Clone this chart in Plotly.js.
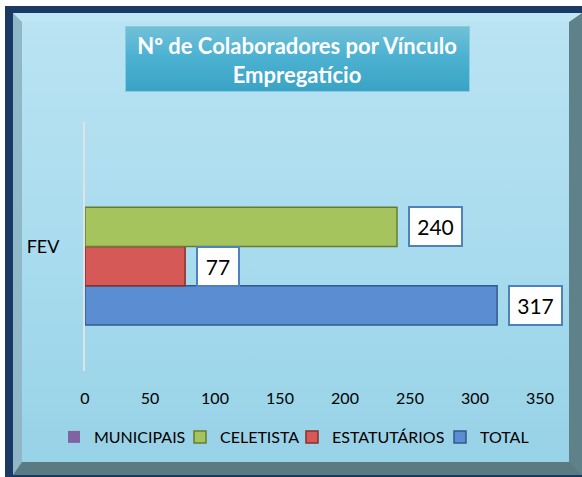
<!DOCTYPE html>
<html>
<head>
<meta charset="utf-8">
<script src="https://cdn.plot.ly/plotly-3.0.1.min.js"></script>
<style>
  html, body { margin: 0; padding: 0; background: #ffffff; }
  #wrap { position: relative; width: 582px; height: 477px; overflow: hidden; }
  #navy { position: absolute; left: 5px; top: 6px; width: 590px; height: 471px; background: #1b3a63; }
  #bevel { position: absolute; left: 13px; top: 13px; width: 547px; height: 440px;
           border-style: solid; border-width: 9px 13px 13px 9px;
           border-color: #bfe6f5 #5f8189 #5a7b82 #8fb7c5;
           background: linear-gradient(to bottom, #bae3f3 0%, #a9dcee 50%, #98d2e7 100%); }
  #titlebox { position: absolute; left: 125px; top: 26px; width: 343px; height: 64px;
              border: 1px solid #86cde2;
              background: linear-gradient(to bottom, #72c0d8 0%, #4db2d2 45%, #3aa3c5 100%); }
  #chart { position: absolute; left: 0; top: 0; width: 582px; height: 477px; }
</style>
</head>
<body>
<div id="wrap">
  <div id="navy"></div>
  <div id="bevel"></div>
  <div id="titlebox"></div>
  <div id="chart"></div>
</div>
<script>
// ---- data ----
const categories = ['FEV'];
const seriesNames = ['TOTAL', 'ESTATUTÁRIOS', 'CELETISTA', 'MUNICIPAIS'];
const total = [317];
const estatutarios = [77];
const celetista = [240];
const municipais = [0];
const xTicks = [0, 50, 100, 150, 200, 250, 300, 350];

const seriesValues = [total, estatutarios, celetista, municipais];
const fills = ['#5b8dd2', '#d55a57', '#a5c45e', '#8064a2'];
const edges = ['#35598a', '#8a2f2c', '#667d31', '#5a4575'];
// one legend box per series so each entry sits where the original has it
const legendIds = ['legend4', 'legend3', 'legend2', 'legend'];
const legendLeftPx = { legend: 54, legend2: 180, legend3: 292, legend4: 440 };

const traces = seriesNames.map((name, i) => ({
  type: 'bar',
  orientation: 'h',
  name: name,
  y: categories,
  x: seriesValues[i],
  legend: legendIds[i],
  marker: { color: fills[i],
            line: { color: edges[i], width: seriesValues[i].some(v => v > 0) ? 1.5 : 0 } },
  hoverinfo: 'none'
}));

const bargap = 0.37;
const barW = (1 - bargap) / seriesNames.length;
const annotations = [];
seriesValues.forEach((vals, i) => {
  vals.forEach((v, j) => {
    if (v <= 0) return;
    const txt = String(v);
    annotations.push({
      x: v, y: j - (1 - bargap) / 2 + barW * (i + 0.5),
      xref: 'x', yref: 'y',
      text: txt, showarrow: false,
      xanchor: 'left', yanchor: 'middle', xshift: 11,
      font: { family: 'Lato, "Open Sans", sans-serif', size: 21, color: '#000000' },
      bgcolor: '#ffffff', bordercolor: '#4f81bd', borderwidth: 2, borderpad: 2,
      width: 11 * txt.length + 14, height: 33
    });
  });
});

const W = 582, H = 477, ML = 85, MR = 42, MT = 122, MB = 106;
const plotW = W - ML - MR, plotH = H - MT - MB;

const layout = {
  width: W, height: H,
  paper_bgcolor: 'rgba(0,0,0,0)', plot_bgcolor: 'rgba(0,0,0,0)',
  margin: { l: ML, r: MR, t: MT, b: MB },
  barmode: 'group', bargap: bargap, bargroupgap: 0,
  font: { family: 'Lato, "Open Sans", sans-serif', color: '#000000' },
  title: {
    text: '<b>Nº de Colaboradores por Vínculo<br>Empregatício</b>',
    font: { family: 'Lato, "Open Sans", sans-serif', size: 22, color: '#ffffff' },
    x: 297 / W, xanchor: 'center', xref: 'container',
    y: 1 - 54 / H, yanchor: 'middle', yref: 'container'
  },
  xaxis: {
    range: [0, 350], tickvals: xTicks, ticktext: xTicks.map(String),
    showgrid: false, zeroline: false, showline: false, ticks: '',
    ticklabelstandoff: 16,
    tickfont: { size: 16, color: '#000000' }
  },
  yaxis: {
    type: 'category', showgrid: false, zeroline: false,
    showline: true, linecolor: '#dde3e6', linewidth: 2,
    ticks: '', ticklabelstandoff: 20,
    tickfont: { size: 18, color: '#000000' }
  },
  showlegend: true,
  annotations: annotations
};
Object.keys(legendLeftPx).forEach(id => {
  layout[id] = {
    orientation: 'h',
    x: (legendLeftPx[id] - ML) / plotW, xanchor: 'left',
    y: -(437 - (H - MB)) / plotH, yanchor: 'middle',
    font: { size: 16, color: '#000000' },
    bgcolor: 'rgba(0,0,0,0)', itemclick: false
  };
});

Plotly.newPlot('chart', traces, layout, { staticPlot: true, displayModeBar: false });
</script>
</body>
</html>
